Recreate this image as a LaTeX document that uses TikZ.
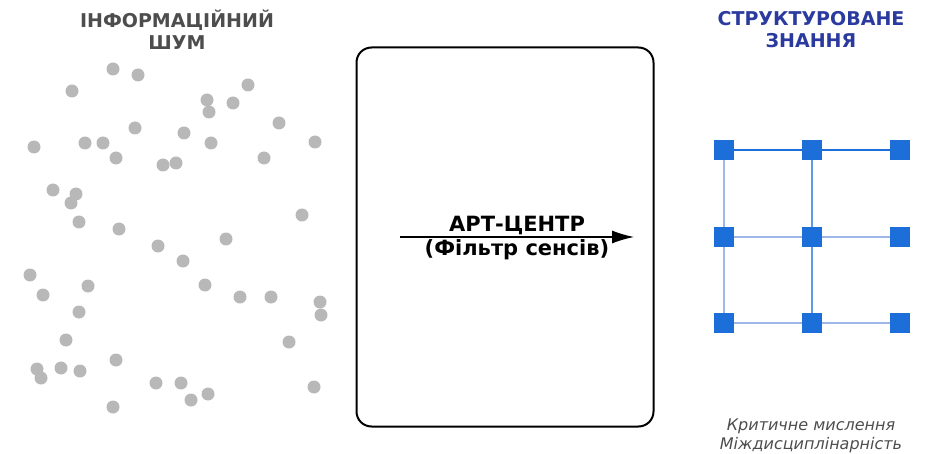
\documentclass[tikz,border=0pt]{standalone}
\usepackage{fontspec}
\setmainfont{DejaVu Sans}
\usetikzlibrary{arrows.meta}
\definecolor{noisegray}{HTML}{B8B8B8}
\definecolor{titlegray}{HTML}{4D4D4D}
\definecolor{knowblue}{HTML}{2B3A9E}
\definecolor{nodeblue}{HTML}{1C6FD8}
\definecolor{linkblue}{HTML}{9DB8E8}
\begin{document}
\begin{tikzpicture}[
  x=1pt, y=-1pt,
  noise/.style = {fill=noisegray, circle, inner sep=0pt, minimum size=13pt},
  knot/.style = {fill=nodeblue, rectangle, inner sep=0pt, minimum size=20pt},
  link/.style = {linkblue, line width=2pt},
  title/.style = {font=\bfseries\fontsize{19}{22}\selectfont, align=center},
  filtertext/.style = {font=\bfseries\fontsize{21}{24}\selectfont, inner sep=1pt},
  ]
  \useasboundingbox (0,0) rectangle (925,454);

  % noise
  \foreach \x/\y [count=\i] in {113/69, 138/75, 72/91, 248/85, 207/100, 233/103,
      209/112, 279/123, 135/128, 184/133, 34/147, 85/143, 103/143, 211/143,
      315/142, 116/158, 163/165, 176/163, 264/158, 53/190, 76/194, 71/203,
      302/215, 79/222, 119/229, 226/239, 158/246, 183/261, 30/275, 88/286,
      43/295, 205/285, 240/297, 271/297, 320/302, 321/315, 79/312, 289/342,
      66/340, 116/360, 37/369, 41/378, 61/368, 80/371, 156/383, 181/383,
      191/400, 208/394, 314/387, 113/407}
    \node[noise] (n\i) at (\x,\y) {};

  \node[title, titlegray] (noisetitle) at (177,30) {ІНФОРМАЦІЙНИЙ\\ШУМ};
  \node[title, knowblue] (knowtitle) at (811,30) {СТРУКТУРОВАНЕ\\ЗНАННЯ};

  % filter
  \node[draw, line width=2pt, rounded corners=15pt, minimum width=297pt,
    minimum height=379pt] (filter) at (505,237) {};
  \coordinate (in) at (400,237);
  \coordinate (out) at (634,237);
  \draw[line width=1.2pt, -{Latex[length=22pt,width=13pt]}] (in) -- (out)
    node[midway, above=1pt, filtertext] {АРТ-ЦЕНТР}
    node[midway, below=1pt, filtertext] {(Фільтр сенсів)};

  % knowledge grid
  \node[knot] (k11) at (724,150) {};
  \node[knot] (k12) at (812,150) {};
  \node[knot] (k13) at (900,150) {};
  \node[knot] (k21) at (724,237) {};
  \node[knot] (k22) at (812,237) {};
  \node[knot] (k23) at (900,237) {};
  \node[knot] (k31) at (724,323) {};
  \node[knot] (k32) at (812,323) {};
  \node[knot] (k33) at (900,323) {};

  \draw[link] (k21) -- (k22) -- (k23);
  \draw[link] (k31) -- (k32) -- (k33);
  \draw[link] (k11) -- (k21) -- (k31);
  \draw[link, nodeblue!70] (k12) -- (k22) -- (k32);
  \draw[nodeblue, line width=2pt] (k11) -- (k12) -- (k13);

  \node[titlegray, font=\itshape\fontsize{16}{19}\selectfont, align=center]
    (skills) at (811,436) {Критичне мислення\\Міждисциплінарність};
\end{tikzpicture}
\end{document}
